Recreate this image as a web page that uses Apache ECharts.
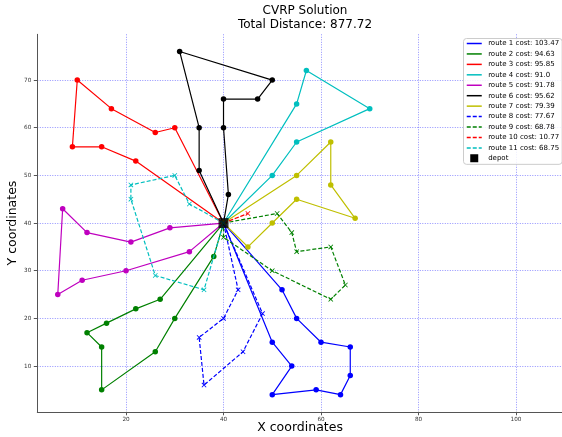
<!DOCTYPE html>
<html><head><meta charset="utf-8">
<script src="https://cdn.jsdelivr.net/npm/echarts@6/dist/echarts.min.js"></script>
<style>html,body{margin:0;padding:0;background:#fff}#c{width:562px;height:437px}</style>
</head><body><div id="c"></div>
<script>
// ---- data ----
const depot = [40, 40];
const route1 = [[52,26],[55,20],[60,15],[66,14],[66,8],[64,4],[59,5],[50,4],[54,10],[50,15]];
const route2 = [[38,33],[30,20],[26,13],[15,5],[15,14],[12,17],[16,19],[22,22],[27,24]];
const route3 = [[30,60],[26,59],[17,64],[10,70],[9,56],[15,56],[22,53]];
const route4 = [[55,65],[57,72],[70,64],[55,57],[50,50]];
const route5 = [[29,39],[21,36],[12,38],[7,43],[6,25],[11,28],[20,30],[33,34]];
const route6 = [[35,51],[35,60],[31,76],[50,70],[47,66],[40,66],[40,60],[41,46]];
const route7 = [[55,50],[62,57],[62,48],[67,41],[55,45],[50,40],[45,35]];
const route8 = [[43,26],[40,20],[35,16],[36,6],[44,13],[48,21]];
const route9 = [[51,42],[54,38],[55,34],[62,35],[65,27],[62,24],[50,30],[40,37]];
const route10 = [[45,42]];
const route11 = [[33,44],[30,50],[21,48],[21,45],[26,29],[36,26]];
const routeCosts = ['103.47','94.63','95.85','91.0','91.78','95.62','79.39','77.67','68.78','10.77','68.75'];
const totalDistance = '877.72';
const xTicks = [20, 40, 60, 80, 100];
const yTicks = [10, 20, 30, 40, 50, 60, 70];

// ---- styles ----
const routes = [route1, route2, route3, route4, route5, route6, route7, route8, route9, route10, route11];
const colors = ['#0000ff','#008000','#ff0000','#00bfbf','#bf00bf','#000000','#bfbf00','#0000ff','#008000','#ff0000','#00bfbf'];
const dashed = [false,false,false,false,false,false,false,true,true,true,true];
const xMark = 'path://M0,1.2 L1.2,0 L10,8.8 L8.8,10 Z M8.8,0 L10,1.2 L1.2,10 L0,8.8 Z';

const series = routes.map((r, i) => ({
  name: 'route ' + (i + 1) + ' cost: ' + routeCosts[i],
  type: 'line',
  data: [depot, ...r, depot],
  symbol: dashed[i] ? xMark : 'circle',
  symbolSize: dashed[i] ? 5 : 5.5,
  showSymbol: true,
  itemStyle: { color: colors[i] },
  lineStyle: { color: colors[i], width: 1.2, type: dashed[i] ? [4, 2] : 'solid' },
  emphasis: { disabled: true },
  z: 2 + i
}));
series.push({
  name: 'depot', type: 'scatter', data: [depot], symbol: 'rect', symbolSize: 10,
  itemStyle: { color: '#000' }, z: 20
});

const chart = echarts.init(document.getElementById('c'), null, { renderer: 'canvas' });
const font = 'DejaVu Sans';
chart.setOption({
  animation: false,
  backgroundColor: '#fff',
  title: {
    text: 'CVRP Solution\nTotal Distance: ' + totalDistance,
    left: 300, top: -1, textAlign: 'center',
    textStyle: { fontFamily: font, fontSize: 12, fontWeight: 'normal', color: '#000', lineHeight: 14 }
  },
  grid: { left: 37.3, top: 34.3, width: 525.5, height: 377.5, containLabel: false, outerBoundsMode: 'none' },
  xAxis: {
    type: 'value', min: 1.8, max: 109.6,
    name: 'X coordinates', nameLocation: 'middle', nameGap: 9, nameMoveOverlap: false,
    nameTextStyle: { fontFamily: font, fontSize: 12.5, color: '#000' },
    axisLine: { show: true, onZero: false, lineStyle: { color: '#555', width: 1 } },
    axisTick: { show: true, length: 3.5, customValues: xTicks, lineStyle: { color: '#555' } },
    axisLabel: { customValues: xTicks, margin: 5, fontFamily: font, fontSize: 5.7, color: '#333' },
    splitLine: { show: true, lineStyle: { color: 'rgba(0,0,255,0.55)', width: 0.8, type: [1, 1.5] } }
  },
  yAxis: {
    type: 'value', min: 0.4, max: 79.6,
    name: 'Y coordinates', nameLocation: 'middle', nameGap: 18, nameMoveOverlap: false,
    nameTextStyle: { fontFamily: font, fontSize: 12.5, color: '#000' },
    axisLine: { show: true, onZero: false, lineStyle: { color: '#555', width: 1 } },
    axisTick: { show: true, length: 3.5, customValues: yTicks, lineStyle: { color: '#555' } },
    axisLabel: { customValues: yTicks, margin: 6, fontFamily: font, fontSize: 5.7, color: '#333' },
    splitLine: { show: true, lineStyle: { color: 'rgba(0,0,255,0.55)', width: 0.8, type: [1, 1.5] } }
  },
  legend: {
    orient: 'vertical', left: 463.5, top: 38.5,
    padding: [1, 3, 2, 2.5],
    itemWidth: 15, itemHeight: 8, itemGap: 2.44,
    symbolKeepAspect: true,
    backgroundColor: 'rgba(255,255,255,0.85)', borderColor: '#cccccc', borderWidth: 1, borderRadius: 3,
    textStyle: { fontFamily: font, fontSize: 7, color: '#000', lineHeight: 8, padding: [0, 0, 0, 1.4] },
    itemStyle: { opacity: 0 },
    lineStyle: { width: 1.5 },
    data: series.map(s => s.name === 'depot'
      ? { name: 'depot', icon: 'path://M3.5,0 L11.5,0 L11.5,8 L3.5,8 Z M0,4 L0.01,4 L0.01,4.01 Z M15,4 L15.01,4 L15.01,4.01 Z', itemStyle: { opacity: 1, color: '#000' } }
      : { name: s.name })
  },
  series: series
});
</script></body></html>
